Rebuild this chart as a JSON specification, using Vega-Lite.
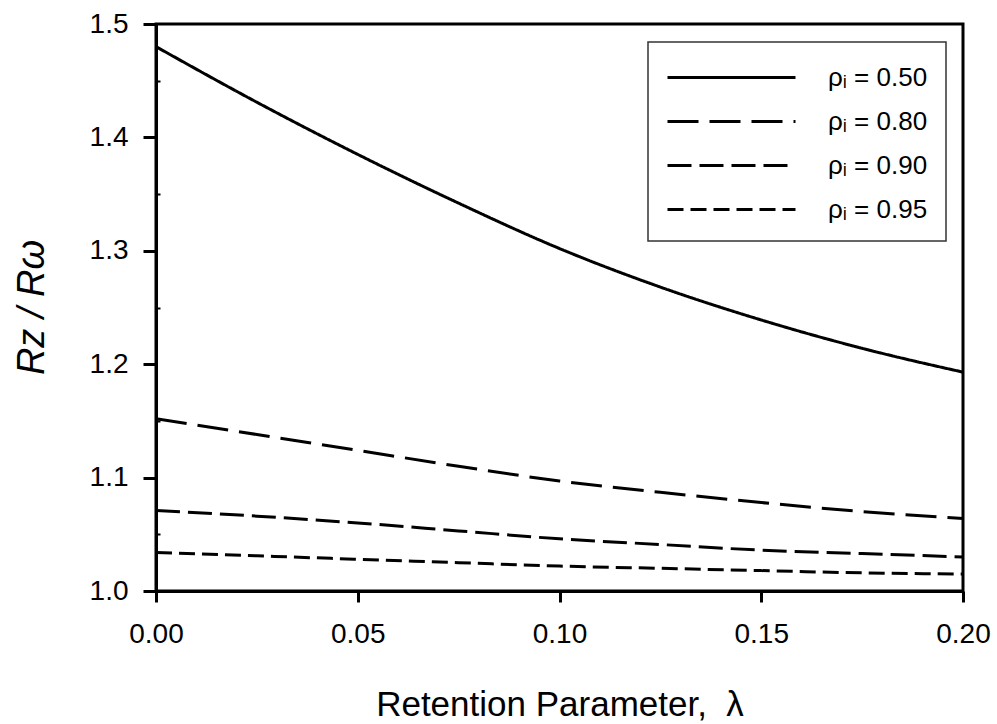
{
  "$schema": "https://vega.github.io/schema/vega-lite/v6.json",
  "width": 807,
  "height": 567,
  "autosize": {"type": "none"},
  "padding": {"left": 156, "top": 24, "right": 34, "bottom": 133},
  "background": "white",
  "config": {
    "view": {"stroke": "black", "strokeWidth": 3},
    "font": "Liberation Sans",
    "axis": {
      "domainColor": "black",
      "domainWidth": 3,
      "tickColor": "black",
      "tickWidth": 3,
      "labelColor": "black",
      "titleColor": "black",
      "labelFont": "Liberation Sans",
      "titleFont": "Liberation Sans",
      "grid": false
    },
    "legend": {
      "strokeColor": "#333333",
      "strokeWidth": 1.5,
      "fillColor": "white"
    }
  },
  "data": {
    "values": [
      {"lambda": 0.000, "ratio": 1.480, "rho": "0.50"},
      {"lambda": 0.025, "ratio": 1.431, "rho": "0.50"},
      {"lambda": 0.050, "ratio": 1.385, "rho": "0.50"},
      {"lambda": 0.075, "ratio": 1.342, "rho": "0.50"},
      {"lambda": 0.100, "ratio": 1.302, "rho": "0.50"},
      {"lambda": 0.125, "ratio": 1.268, "rho": "0.50"},
      {"lambda": 0.150, "ratio": 1.239, "rho": "0.50"},
      {"lambda": 0.175, "ratio": 1.214, "rho": "0.50"},
      {"lambda": 0.200, "ratio": 1.193, "rho": "0.50"},
      {"lambda": 0.000, "ratio": 1.152, "rho": "0.80"},
      {"lambda": 0.025, "ratio": 1.138, "rho": "0.80"},
      {"lambda": 0.050, "ratio": 1.124, "rho": "0.80"},
      {"lambda": 0.075, "ratio": 1.110, "rho": "0.80"},
      {"lambda": 0.100, "ratio": 1.097, "rho": "0.80"},
      {"lambda": 0.125, "ratio": 1.087, "rho": "0.80"},
      {"lambda": 0.150, "ratio": 1.078, "rho": "0.80"},
      {"lambda": 0.175, "ratio": 1.070, "rho": "0.80"},
      {"lambda": 0.200, "ratio": 1.064, "rho": "0.80"},
      {"lambda": 0.000, "ratio": 1.071, "rho": "0.90"},
      {"lambda": 0.025, "ratio": 1.066, "rho": "0.90"},
      {"lambda": 0.050, "ratio": 1.060, "rho": "0.90"},
      {"lambda": 0.075, "ratio": 1.053, "rho": "0.90"},
      {"lambda": 0.100, "ratio": 1.046, "rho": "0.90"},
      {"lambda": 0.125, "ratio": 1.041, "rho": "0.90"},
      {"lambda": 0.150, "ratio": 1.036, "rho": "0.90"},
      {"lambda": 0.175, "ratio": 1.033, "rho": "0.90"},
      {"lambda": 0.200, "ratio": 1.030, "rho": "0.90"},
      {"lambda": 0.000, "ratio": 1.034, "rho": "0.95"},
      {"lambda": 0.025, "ratio": 1.031, "rho": "0.95"},
      {"lambda": 0.050, "ratio": 1.028, "rho": "0.95"},
      {"lambda": 0.075, "ratio": 1.025, "rho": "0.95"},
      {"lambda": 0.100, "ratio": 1.022, "rho": "0.95"},
      {"lambda": 0.125, "ratio": 1.020, "rho": "0.95"},
      {"lambda": 0.150, "ratio": 1.018, "rho": "0.95"},
      {"lambda": 0.175, "ratio": 1.016, "rho": "0.95"},
      {"lambda": 0.200, "ratio": 1.015, "rho": "0.95"}
    ]
  },
  "mark": {"type": "line", "color": "black", "strokeWidth": 3, "interpolate": "monotone", "clip": true},
  "encoding": {
    "x": {
      "field": "lambda",
      "type": "quantitative",
      "scale": {"domain": [0, 0.2], "nice": false, "zero": false},
      "axis": {
        "values": [0, 0.05, 0.1, 0.15, 0.2],
        "format": ".2f",
        "tickSize": 11,
        "labelFontSize": 28,
        "labelPadding": 18,
        "labelFlush": false,
        "title": "Retention Parameter,\u00a0\u00a0λ",
        "titleFontSize": 35,
        "titleFontWeight": "normal",
        "titleY": 124,
        "titleBaseline": "alphabetic"
      }
    },
    "y": {
      "field": "ratio",
      "type": "quantitative",
      "scale": {"domain": [1.0, 1.5], "nice": false, "zero": false},
      "axis": {
        "values": [1.0, 1.05, 1.1, 1.15, 1.2, 1.25, 1.3, 1.35, 1.4, 1.45, 1.5],
        "labelExpr": "round(datum.value*100) % 10 == 0 ? format(datum.value, '.1f') : ''",
        "tickSize": {"condition": {"test": "round(datum.value*100) % 10 != 0", "value": -4}, "value": 13},
        "tickWidth": {"condition": {"test": "round(datum.value*100) % 10 != 0", "value": 2}, "value": 3},
        "labelFontSize": 28,
        "labelPadding": 15,
        "labelFlush": false,
        "title": "Rz / Rω",
        "titleFontSize": 38,
        "titleFontStyle": "italic",
        "titleFontWeight": "normal",
        "titleX": -124,
        "titleY": 283,
        "titleAngle": -90,
        "titleAlign": "center",
        "titleBaseline": "middle"
      }
    },
    "strokeDash": {
      "field": "rho",
      "type": "nominal",
      "scale": {
        "domain": ["0.50", "0.80", "0.90", "0.95"],
        "range": [[1, 0], [31, 11], [24, 8], [16, 7]]
      },
      "legend": {
        "title": null,
        "orient": "none",
        "legendX": 492,
        "legendY": 18,
        "padding": 18,
        "symbolType": "M-1,0H7",
        "symbolSize": 1024,
        "symbolStrokeWidth": 3,
        "symbolStrokeColor": "black",
        "labelFontSize": 26,
        "labelColor": "black",
        "labelOffset": 127,
        "rowPadding": 13,
        "labelExpr": "'ρᵢ = ' + datum.label"
      }
    }
  }
}
